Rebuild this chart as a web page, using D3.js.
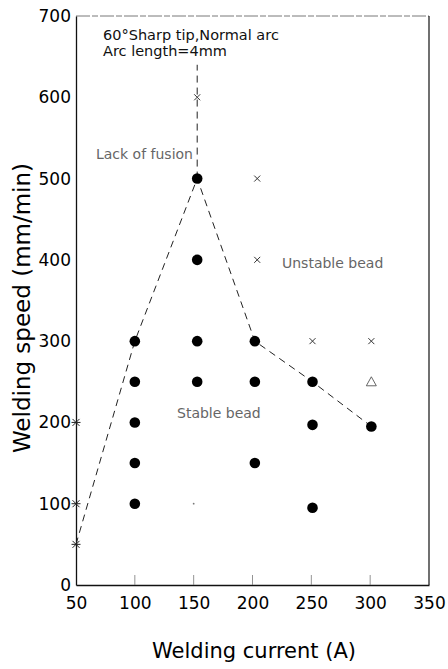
<!DOCTYPE html>
<html>
<head>
<meta charset="utf-8">
<script src="https://cdn.jsdelivr.net/npm/d3@7"></script>
<style>
  html, body { margin: 0; padding: 0; background: #fff; }
  svg { display: block; }
  text { font-family: "DejaVu Sans", sans-serif; }
</style>
</head>
<body>
<script>
// ---- data ----
const xTicks = [50, 100, 150, 200, 250, 300, 350];
const yTicks = [0, 100, 200, 300, 400, 500, 600, 700];

// stable bead (filled circles)
const stableX = [100, 100, 100, 100, 100, 153, 153, 153, 153, 202, 202, 202, 251, 251, 251, 301];
const stableY = [300, 250, 200, 150, 100, 500, 400, 300, 250, 300, 250, 150, 250, 197, 95, 195];

// unstable bead (x marks)
const unstableX = [153, 204, 204, 251, 301];
const unstableY = [600, 500, 400, 300, 300];

// lack of fusion marks on the axis
const lofX = [50, 50, 50];
const lofY = [200, 100, 50];

// triangle
const triX = [301];
const triY = [250];

// boundary (dashed)
const boundX = [50, 100, 153, 202, 251, 301];
const boundY = [50, 300, 500, 300, 250, 195];
const topBoundX = [153, 153];
const topBoundY = [500, 640];

// ---- chart ----
const W = 448, H = 669;
const svg = d3.select("body").append("svg").attr("width", W).attr("height", H);

const x = d3.scaleLinear().domain([50, 350]).range([76, 429]);
const y = d3.scaleLinear().domain([0, 700]).range([585, 16]);

// frame
svg.append("line").attr("x1", x(50)).attr("x2", x(350)).attr("y1", y(700)).attr("y2", y(700))
  .attr("stroke", "#555").attr("stroke-width", 0.8).attr("stroke-dasharray", "14,2,6,2");
svg.append("line").attr("x1", x(350)).attr("x2", x(350)).attr("y1", y(700)).attr("y2", y(0))
  .attr("stroke", "#111").attr("stroke-width", 1.2);

// x axis (ticks inward)
const xAxis = d3.axisBottom(x).tickValues(xTicks).tickSize(0).tickPadding(12).tickFormat(d3.format("d"));
const gx = svg.append("g").attr("transform", `translate(0,${y(0)})`).call(xAxis);
gx.select(".domain").attr("stroke", "#111").attr("stroke-width", 1.3);
gx.selectAll("text").attr("font-size", 17).attr("fill", "#000").attr("font-family", "DejaVu Sans, sans-serif");
svg.append("g").selectAll("line").data(xTicks.filter(d => d > 50 && d < 350)).join("line")
  .attr("x1", d => x(d)).attr("x2", d => x(d)).attr("y1", y(0)).attr("y2", y(0) - 10)
  .attr("stroke", "#777").attr("stroke-width", 0.8);

// y axis
const yAxis = d3.axisLeft(y).tickValues(yTicks).tickSize(0).tickPadding(5).tickFormat(d3.format("d"));
const gy = svg.append("g").attr("transform", `translate(${x(50)},0)`).call(yAxis);
gy.select(".domain").attr("stroke", "#111").attr("stroke-width", 1.3);
gy.selectAll("text").attr("font-size", 17).attr("fill", "#000").attr("font-family", "DejaVu Sans, sans-serif");

// axis titles
svg.append("text").attr("x", 254).attr("y", 658).attr("text-anchor", "middle")
  .attr("font-size", 21).attr("fill", "#000").text("Welding current (A)");
svg.append("text").attr("transform", "translate(30,308) rotate(-90)").attr("text-anchor", "middle")
  .attr("font-size", 23).attr("fill", "#000").text("Welding speed (mm/min)");

// boundary lines
const line = d3.line().x(d => x(d[0])).y(d => y(d[1]));
svg.append("path").datum(boundX.map((v, i) => [v, boundY[i]])).attr("d", line)
  .attr("fill", "none").attr("stroke", "#222").attr("stroke-width", 1).attr("stroke-dasharray", "7,5");
svg.append("path").datum(topBoundX.map((v, i) => [v, topBoundY[i]])).attr("d", line)
  .attr("fill", "none").attr("stroke", "#222").attr("stroke-width", 1).attr("stroke-dasharray", "7,5");

// stable points
svg.append("g").selectAll("circle").data(stableX.map((v, i) => [v, stableY[i]])).join("circle")
  .attr("cx", d => x(d[0])).attr("cy", d => y(d[1])).attr("r", 5.3).attr("fill", "#000");

// unstable x marks
const xs = 3;
svg.append("g").selectAll("path").data(unstableX.map((v, i) => [v, unstableY[i]])).join("path")
  .attr("d", d => { const cx = x(d[0]), cy = y(d[1]);
    return `M${cx - xs},${cy - xs}L${cx + xs},${cy + xs}M${cx - xs},${cy + xs}L${cx + xs},${cy - xs}`; })
  .attr("stroke", "#333").attr("stroke-width", 1).attr("fill", "none");

// lack of fusion asterisks
const as = 3.5;
svg.append("g").selectAll("path").data(lofX.map((v, i) => [v, lofY[i]])).join("path")
  .attr("d", d => { const cx = x(d[0]), cy = y(d[1]);
    return `M${cx - as},${cy - as}L${cx + as},${cy + as}M${cx - as},${cy + as}L${cx + as},${cy - as}M${cx - as - 1},${cy}L${cx + as + 1},${cy}`; })
  .attr("stroke", "#222").attr("stroke-width", 1).attr("fill", "none");

// triangle
svg.append("g").selectAll("path").data(triX.map((v, i) => [v, triY[i]])).join("path")
  .attr("d", d => { const cx = x(d[0]), cy = y(d[1]);
    return `M${cx},${cy - 5}L${cx + 5},${cy + 4}L${cx - 5},${cy + 4}Z`; })
  .attr("stroke", "#555").attr("stroke-width", 0.9).attr("fill", "none");

// tiny speck
svg.append("circle").attr("cx", x(150)).attr("cy", y(100)).attr("r", 0.9).attr("fill", "#777");

// annotations
svg.append("text").attr("x", 103).attr("y", 40).attr("font-size", 14.5).attr("fill", "#111")
  .text("60°Sharp tip,Normal arc");
svg.append("text").attr("x", 103).attr("y", 56).attr("font-size", 14.5).attr("fill", "#111")
  .text("Arc length=4mm");
svg.append("text").attr("x", 193).attr("y", 159).attr("text-anchor", "end").attr("font-size", 14)
  .attr("fill", "#666").text("Lack of fusion");
svg.append("text").attr("x", 282).attr("y", 268).attr("font-size", 14)
  .attr("fill", "#666").text("Unstable bead");
svg.append("text").attr("x", 177).attr("y", 418).attr("font-size", 14)
  .attr("fill", "#666").text("Stable bead");
</script>
</body>
</html>
